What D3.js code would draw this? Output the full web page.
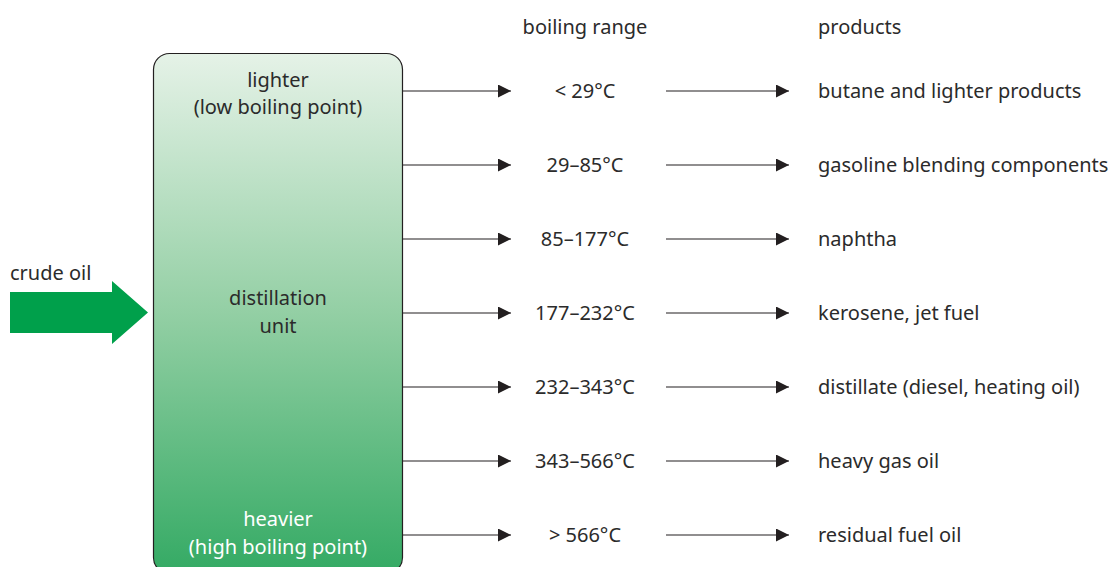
<!DOCTYPE html>
<html>
<head>
<meta charset="utf-8">
<script src="https://cdn.jsdelivr.net/npm/d3@7"></script>
<style>
  body { margin: 0; background: #fff; }
  text { font-family: "Noto Sans", sans-serif; font-size: 20px; fill: #2b2b2b; }
</style>
</head>
<body>
<div id="chart"></div>
<script>
// chart data
var ranges = ["< 29°C", "29–85°C", "85–177°C", "177–232°C", "232–343°C", "343–566°C", "> 566°C"];
var products = ["butane and lighter products", "gasoline blending components", "naphtha",
  "kerosene, jet fuel", "distillate (diesel, heating oil)", "heavy gas oil", "residual fuel oil"];
var headers = ["boiling range", "products"];

var svgWidth = 1109;
var svgHeight = 567;

var svg = d3.select("#chart")
  .append("svg")
  .attr("width", svgWidth)
  .attr("height", svgHeight);

var defs = svg.append("defs");

// gradient for the column
var grad = defs.append("linearGradient")
  .attr("id", "colGrad")
  .attr("x1", 0).attr("y1", 0).attr("x2", 0).attr("y2", 1);
grad.append("stop").attr("offset", "0%").attr("stop-color", "#e5f2e7");
grad.append("stop").attr("offset", "50%").attr("stop-color", "#93cfa4");
grad.append("stop").attr("offset", "100%").attr("stop-color", "#34aa64");

defs.append("marker")
  .attr("id", "head")
  .attr("viewBox", "0 0 10 10")
  .attr("refX", 10).attr("refY", 5)
  .attr("markerWidth", 14).attr("markerHeight", 13)
  .attr("markerUnits", "userSpaceOnUse")
  .attr("orient", "auto")
  .append("path")
  .attr("d", "M0,0L10,5L0,10Z")
  .attr("fill", "#231f20");

// row positions
var y = d3.scalePoint()
  .domain(d3.range(ranges.length))
  .range([91, 535]);

// distillation column
svg.append("rect")
  .attr("x", 153.5).attr("y", 53.5)
  .attr("width", 249).attr("height", 520)
  .attr("rx", 16)
  .attr("fill", "url(#colGrad)")
  .attr("stroke", "#231f20")
  .attr("stroke-width", 1.2);

var colX = 278;
svg.append("text").attr("x", colX).attr("y", 87).attr("text-anchor", "middle").text("lighter");
svg.append("text").attr("x", colX).attr("y", 114).attr("text-anchor", "middle").text("(low boiling point)");
svg.append("text").attr("x", colX).attr("y", 305).attr("text-anchor", "middle").text("distillation");
svg.append("text").attr("x", colX).attr("y", 333).attr("text-anchor", "middle").text("unit");
svg.append("text").attr("x", colX).attr("y", 526).attr("text-anchor", "middle").style("fill", "#fff").text("heavier");
svg.append("text").attr("x", colX).attr("y", 554).attr("text-anchor", "middle").style("fill", "#fff").text("(high boiling point)");

// crude oil input
svg.append("text").attr("x", 10).attr("y", 280).text("crude oil");
svg.append("path")
  .attr("d", "M10,292H112V281L148,312.5L112,344V333H10Z")
  .attr("fill", "#00a04b");

// headers
svg.append("text").attr("x", 585).attr("y", 34).attr("text-anchor", "middle").text(headers[0]);
svg.append("text").attr("x", 818).attr("y", 34).text(headers[1]);

var rows = svg.selectAll(".row")
  .data(ranges)
  .enter()
  .append("g")
  .attr("class", "row")
  .attr("transform", (d, i) => `translate(0, ${y(i)})`);

rows.append("line")
  .attr("x1", 403).attr("x2", 511)
  .attr("stroke", "#231f20").attr("stroke-width", 1.2)
  .attr("marker-end", "url(#head)");

rows.append("text")
  .attr("x", 585).attr("y", 7)
  .attr("text-anchor", "middle")
  .text(d => d);

rows.append("line")
  .attr("x1", 666).attr("x2", 789)
  .attr("stroke", "#231f20").attr("stroke-width", 1.2)
  .attr("marker-end", "url(#head)");

rows.append("text")
  .attr("x", 818).attr("y", 7)
  .text((d, i) => products[i]);
</script>
</body>
</html>
